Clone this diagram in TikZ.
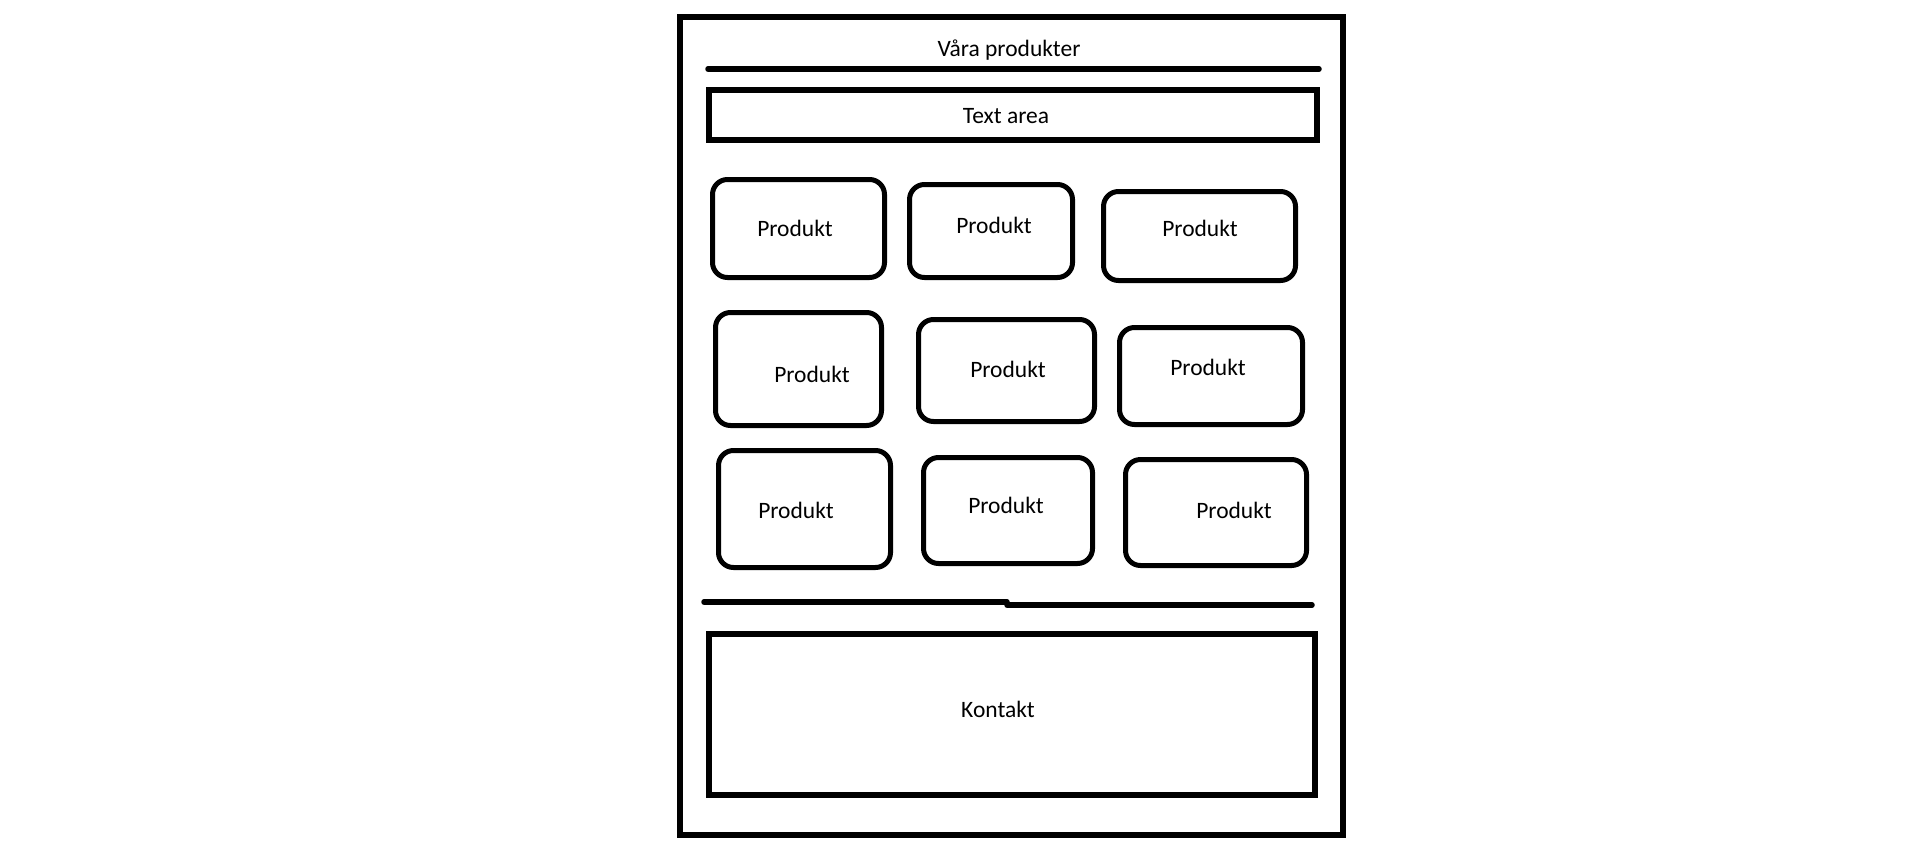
\documentclass[tikz,border=0pt]{standalone}
\usepackage{fontspec}
\setmainfont{Carlito}
\begin{document}
\begin{tikzpicture}[x=1pt,y=-1pt,
  frame/.style={draw, line width=5.5pt, inner sep=0pt},
  box/.style={draw, rounded corners=15pt, line width=5pt, inner sep=0pt},
  rule/.style={draw, line width=5.5pt, line cap=round},
  lbl/.style={font=\fontsize{23.5}{28}\selectfont, inner sep=0pt}]
\useasboundingbox (0,0) rectangle (1908,852);
% outer frame
\node[frame, minimum width=663pt, minimum height=818pt] (outer) at (1011.5,426) {};
% title
\node[lbl] (title) at (1009,50) {Våra produkter};
\coordinate (r1a) at (708,69);
\coordinate (r1b) at (1319,69);
\draw[rule] (r1a) -- (r1b);
% text area
\node[frame, minimum width=608pt, minimum height=50pt] (textarea) at (1013,115) {};
\node[lbl] (textareal) at (1006,116) {Text area};
% products
\node[box, minimum width=172pt, minimum height=98pt] (p1) at (798.5,228.5) {};
\node[box, minimum width=163pt, minimum height=93pt] (p2) at (991,231) {};
\node[box, minimum width=192pt, minimum height=89pt] (p3) at (1199.5,236) {};
\node[box, minimum width=166pt, minimum height=113pt] (p4) at (798.5,369) {};
\node[box, minimum width=176pt, minimum height=102pt] (p5) at (1006.5,370.5) {};
\node[box, minimum width=183pt, minimum height=97pt] (p6) at (1211,376) {};
\node[box, minimum width=172pt, minimum height=117pt] (p7) at (804.5,509) {};
\node[box, minimum width=169pt, minimum height=106pt] (p8) at (1008,510.5) {};
\node[box, minimum width=181pt, minimum height=106pt] (p9) at (1216,512.5) {};
\node[lbl] (p1l) at (795,228) {Produkt};
\node[lbl] (p2l) at (994,225) {Produkt};
\node[lbl] (p3l) at (1200,228) {Produkt};
\node[lbl] (p4l) at (812,374) {Produkt};
\node[lbl] (p5l) at (1008,369) {Produkt};
\node[lbl] (p6l) at (1208,367) {Produkt};
\node[lbl] (p7l) at (796,510) {Produkt};
\node[lbl] (p8l) at (1006,505) {Produkt};
\node[lbl] (p9l) at (1234,510) {Produkt};
% lower rule (slightly stepped)
\coordinate (r2a) at (704,602);
\coordinate (r2m) at (1007,602);
\coordinate (r2n) at (1007,605);
\coordinate (r2b) at (1312,605);
\draw[rule] (r2a) -- (r2m);
\draw[rule] (r2n) -- (r2b);
% contact
\node[frame, minimum width=606pt, minimum height=161pt] (kontakt) at (1012,714.5) {};
\node[lbl] (kontaktl) at (998,709) {Kontakt};
\end{tikzpicture}
\end{document}
